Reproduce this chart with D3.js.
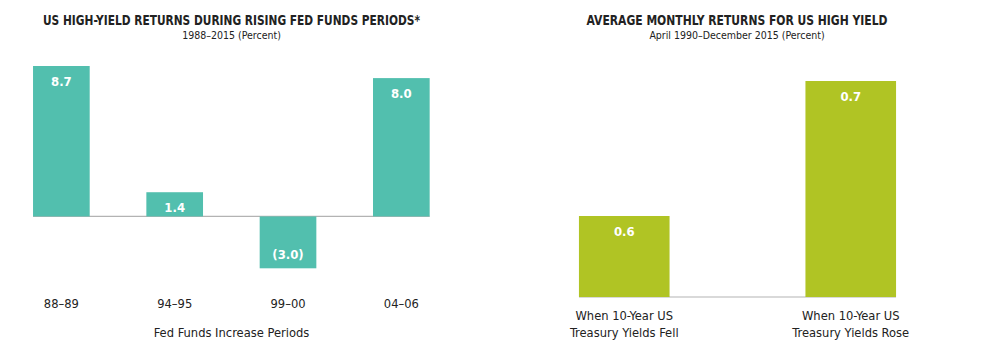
<!DOCTYPE html>
<html><head><meta charset="utf-8">
<script src="https://cdn.jsdelivr.net/npm/d3@7"></script>
<style>body{margin:0;background:#fff}svg{display:block}</style>
</head><body>
<svg id="c" width="991" height="355"></svg>
<script>
const leftCategories = ["88–89","94–95","99–00","04–06"];
const leftValues = [8.7, 1.4, -3.0, 8.0];
const leftLabels = ["8.7","1.4","(3.0)","8.0"];
const rightCategories = [["When 10-Year US","Treasury Yields Fell"],["When 10-Year US","Treasury Yields Rose"]];
const rightValues = [0.6, 0.7];
const rightLabels = ["0.6","0.7"];

const svg = d3.select("#c");
const FONT = "'DejaVu Sans Condensed','DejaVu Sans',sans-serif";
const teal = "#52bfae", green = "#b0c424", axisGray = "#b3b3b3";

function title(x, t, s, w){
  svg.append("text").attr("x",x).attr("y",25).attr("text-anchor","middle")
    .attr("font-family",FONT).attr("font-weight","bold").attr("font-size",13.5)
    .attr("textLength",w).attr("lengthAdjust","spacingAndGlyphs")
    .attr("fill","#222").text(t);
  svg.append("text").attr("x",x).attr("y",39).attr("text-anchor","middle")
    .attr("font-family",FONT).attr("font-size",10.5).attr("fill","#222").text(s);
}
title(231.5,"US HIGH-YIELD RETURNS DURING RISING FED FUNDS PERIODS*","1988–2015 (Percent)",377);
title(737,"AVERAGE MONTHLY RETURNS FOR US HIGH YIELD","April 1990–December 2015 (Percent)",301);

// Left chart
const xL = d3.scaleBand().domain(leftCategories).range([4.7,458]).paddingInner(0.5).paddingOuter(0.25);
const yL = d3.scaleLinear().domain([-3.0, 8.7]).range([268.3, 66]);
const gL = svg.append("g");
gL.append("line").attr("x1",xL(leftCategories[0])).attr("x2",xL(leftCategories[3])+xL.bandwidth())
  .attr("y1",yL(0)).attr("y2",yL(0)).attr("stroke",axisGray).attr("stroke-width",1.2);
gL.selectAll("rect").data(leftValues).join("rect")
  .attr("x",(d,i)=>xL(leftCategories[i])).attr("width",xL.bandwidth())
  .attr("y",d=>yL(Math.max(0,d))).attr("height",d=>Math.abs(yL(d)-yL(0)))
  .attr("fill",teal);
gL.selectAll("text.v").data(leftValues).join("text").attr("class","v")
  .attr("x",(d,i)=>xL(leftCategories[i])+xL.bandwidth()/2)
  .attr("y",d=> d>=0 ? yL(d)+20 : yL(d)-9)
  .attr("text-anchor","middle").attr("font-family",FONT).attr("font-weight","bold")
  .attr("font-size",13).attr("fill","#fff").text((d,i)=>leftLabels[i]);
const axL = gL.append("g").attr("transform","translate(0,296)")
  .call(d3.axisBottom(xL).tickSize(0).tickPadding(0));
axL.select(".domain").remove();
axL.selectAll("text").attr("font-family",FONT).attr("font-size",12.8).attr("fill","#222").attr("dy","0.9em");
gL.append("text").attr("x",231.5).attr("y",337).attr("text-anchor","middle")
  .attr("font-family",FONT).attr("font-size",12.8).attr("fill","#222").text("Fed Funds Increase Periods");

// Right chart
const rKeys = rightCategories.map(d=>d.join(" "));
const xR = d3.scaleBand().domain(rKeys).range([511,964]).paddingInner(0.6).paddingOuter(0.3);
const yR = d3.scaleLinear().domain([0.54, 0.7]).range([297, 81]);
const gR = svg.append("g");
gR.append("line").attr("x1",xR(rKeys[0])).attr("x2",xR(rKeys[1])+xR.bandwidth())
  .attr("y1",yR(0.54)).attr("y2",yR(0.54)).attr("stroke",axisGray).attr("stroke-width",1.2);
gR.selectAll("rect").data(rightValues).join("rect")
  .attr("x",(d,i)=>xR(rKeys[i])).attr("width",xR.bandwidth())
  .attr("y",d=>yR(d)).attr("height",d=>yR(0.54)-yR(d)).attr("fill",green);
gR.selectAll("text.v").data(rightValues).join("text").attr("class","v")
  .attr("x",(d,i)=>xR(rKeys[i])+xR.bandwidth()/2).attr("y",d=>yR(d)+20)
  .attr("text-anchor","middle").attr("font-family",FONT).attr("font-weight","bold")
  .attr("font-size",13).attr("fill","#fff").text((d,i)=>rightLabels[i]);
const axR = gR.append("g").attr("transform","translate(0,308)")
  .call(d3.axisBottom(xR).tickSize(0).tickPadding(0));
axR.select(".domain").remove();
axR.selectAll("text").text(null).attr("font-family",FONT).attr("font-size",12.8).attr("fill","#222")
  .each(function(d,i){
    const t = d3.select(this);
    rightCategories[i].forEach((line,j)=>{
      t.append("tspan").attr("x",0).attr("dy", j===0 ? "0.9em" : "1.4em").text(line);
    });
  });
</script>
</body></html>
